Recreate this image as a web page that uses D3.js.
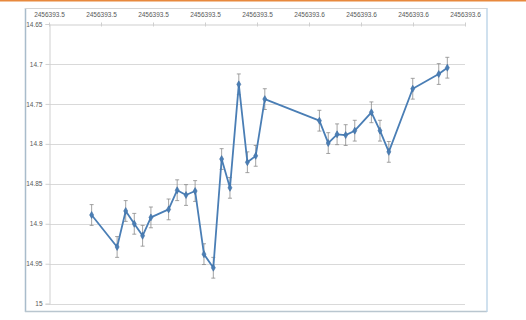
<!DOCTYPE html>
<html>
<head>
<meta charset="utf-8">
<script src="https://cdn.jsdelivr.net/npm/d3@7/dist/d3.min.js"></script>
<style>
  html, body { margin: 0; padding: 0; background: #fff; }
  svg { display: block; }
  text { font-family: "Liberation Sans", "DejaVu Sans", sans-serif; }
</style>
</head>
<body>
<svg id="chart" width="526" height="320"></svg>
<script>
// Julian dates of the observations
const jd = [
  2456393.4764, 2456393.4862, 2456393.4895, 2456393.4928, 2456393.4960,
  2456393.4992, 2456393.5060, 2456393.5093, 2456393.5127, 2456393.5162,
  2456393.5196, 2456393.5232, 2456393.5264, 2456393.5296, 2456393.5330,
  2456393.5363, 2456393.5395, 2456393.5430, 2456393.5640, 2456393.5674,
  2456393.5708, 2456393.5741, 2456393.5776, 2456393.5840, 2456393.5873,
  2456393.5907, 2456393.5999, 2456393.6099, 2456393.6132
];
// Magnitudes
const mag = [
  14.889, 14.929, 14.884, 14.900, 14.915,
  14.892, 14.882, 14.858, 14.864, 14.859,
  14.938, 14.955, 14.819, 14.855, 14.7255,
  14.823, 14.815, 14.744, 14.771, 14.799,
  14.788, 14.789, 14.7835, 14.7605, 14.7835,
  14.810, 14.731, 14.7126, 14.7047
];
// Magnitude uncertainties
const magErr = [
  0.013, 0.013, 0.013, 0.013, 0.013,
  0.013, 0.013, 0.013, 0.013, 0.013,
  0.013, 0.013, 0.013, 0.013, 0.013,
  0.013, 0.013, 0.013, 0.013, 0.013,
  0.013, 0.013, 0.013, 0.013, 0.013,
  0.013, 0.013, 0.013, 0.013
];
// Axis ticks
const xTicks = [2456393.46, 2456393.48, 2456393.50, 2456393.52, 2456393.54,
                2456393.56, 2456393.58, 2456393.60, 2456393.62];
const yTicks = [14.65, 14.7, 14.75, 14.8, 14.85, 14.9, 14.95, 15];

const svg = d3.select("#chart");
const plot = { left: 49, right: 465, top: 24, bottom: 303.7 };

// orange strip along the top edge
svg.append("rect").attr("x", 0).attr("y", 0).attr("width", 526).attr("height", 1.5)
  .attr("fill", "#e8893d");

// chart frame
svg.append("rect").attr("x", 25.5).attr("y", 8.5).attr("width", 461.5).attr("height", 303)
  .attr("fill", "#fff").attr("stroke", "#c9d6e0").attr("stroke-width", 1);
svg.append("line").attr("x1", 25.5).attr("x2", 25.5).attr("y1", 8).attr("y2", 312)
  .attr("stroke", "#a9bccb").attr("stroke-width", 1.5);
svg.append("line").attr("x1", 25).attr("x2", 487).attr("y1", 311.5).attr("y2", 311.5)
  .attr("stroke", "#b9c6cf").attr("stroke-width", 1.5);
svg.append("line").attr("x1", 25).attr("x2", 487).attr("y1", 8.5).attr("y2", 8.5)
  .attr("stroke", "#d4d4d4").attr("stroke-width", 1);
svg.append("line").attr("x1", 487).attr("x2", 487).attr("y1", 8).attr("y2", 312)
  .attr("stroke", "#bcd7ee").attr("stroke-width", 1);

const x = d3.scaleLinear().domain([xTicks[0], xTicks[xTicks.length - 1]])
  .range([plot.left, plot.right]);
const y = d3.scaleLinear().domain([yTicks[0], yTicks[yTicks.length - 1]])
  .range([plot.top, plot.bottom]);

// horizontal gridlines
svg.append("g").selectAll("line").data(yTicks.slice(1)).join("line")
  .attr("x1", plot.left).attr("x2", plot.right)
  .attr("y1", d => Math.round(y(d)) + 0.5).attr("y2", d => Math.round(y(d)) + 0.5)
  .attr("stroke", "#d9d9d9").attr("stroke-width", 1);

// left (magnitude) axis
const yAxis = d3.axisLeft(y).tickValues(yTicks).tickSize(4).tickPadding(3)
  .tickFormat(d3.format("~g"));
const gy = svg.append("g").attr("transform", `translate(${plot.left + 0.5},0)`).call(yAxis);
gy.select(".domain").attr("stroke", "#d0d0d0");
gy.selectAll(".tick line").attr("stroke", "#d0d0d0");
gy.selectAll(".tick text").attr("fill", "#595959").attr("font-size", 6.5);

// top (time) axis
const xAxis = d3.axisTop(x).tickValues(xTicks).tickSize(4).tickSizeOuter(0).tickPadding(4)
  .tickFormat(d3.format(".1f"));
const gx = svg.append("g").attr("transform", `translate(0,${plot.top + 0.5})`).call(xAxis);
gx.select(".domain").attr("stroke", "#cfcfcf");
gx.selectAll(".tick line").attr("stroke", "#cfcfcf").attr("transform", "translate(0,2)");
gx.selectAll(".tick text").attr("fill", "#595959").attr("font-size", 6.5);

const pts = jd.map((t, i) => ({ t, m: mag[i], e: magErr[i] }));

// error bars
const eb = svg.append("g").attr("stroke", "#8c8c8c").attr("stroke-width", 0.8);
pts.forEach(p => {
  const cx = x(p.t);
  eb.append("line").attr("x1", cx).attr("x2", cx)
    .attr("y1", y(p.m - p.e)).attr("y2", y(p.m + p.e));
  eb.append("line").attr("x1", cx - 2).attr("x2", cx + 2)
    .attr("y1", y(p.m - p.e)).attr("y2", y(p.m - p.e));
  eb.append("line").attr("x1", cx - 2).attr("x2", cx + 2)
    .attr("y1", y(p.m + p.e)).attr("y2", y(p.m + p.e));
});

// light curve
const line = d3.line().x(d => x(d.t)).y(d => y(d.m));
svg.append("path").datum(pts).attr("d", line)
  .attr("fill", "none").attr("stroke", "#4a7eb5").attr("stroke-width", 1.8)
  .attr("stroke-linejoin", "round");

// diamond markers
svg.append("g").selectAll("path").data(pts).join("path")
  .attr("transform", d => `translate(${x(d.t)},${y(d.m)})`)
  .attr("d", d3.symbol().type(d3.symbolDiamond).size(14))
  .attr("fill", "#4a7eb5").attr("stroke", "#3f6fa3").attr("stroke-width", 0.6);
</script>
</body>
</html>
